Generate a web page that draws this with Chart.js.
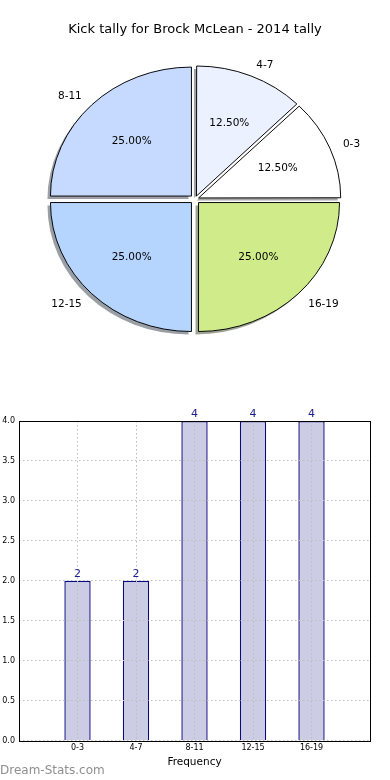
<!DOCTYPE html>
<html>
<head>
<meta charset="utf-8">
<script src="https://cdn.jsdelivr.net/npm/chart.js@4.4.0/dist/chart.umd.min.js"></script>
<style>
    body { margin: 0; background: #fff; width: 390px; height: 780px; overflow: hidden; position: relative; font-family: "DejaVu Sans", sans-serif; }
    #pie-wrap { position: absolute; left: 0; top: 0; width: 390px; height: 380px; }
    #bar-wrap { position: absolute; left: 0; top: 380px; width: 390px; height: 400px; }
    #brand { position: absolute; left: 0; top: 762px; font-size: 12px; line-height: 16px; color: #8f8f8f; }
</style>
</head>
<body>
<div id="pie-wrap"><canvas id="pie-chart"></canvas></div>
<div id="bar-wrap"><canvas id="bar-chart"></canvas></div>
<div id="brand">Dream-Stats.com</div>
<script>
const ageGroups = ['0-3', '4-7', '8-11', '12-15', '16-19'];
const kickCounts = [2, 2, 4, 4, 4];
const sliceColors = ['#ffffff', '#ebf1ff', '#c6d9ff', '#b5d5ff', '#d0eb8a'];
const chartTitle = 'Kick tally for Brock McLean - 2014 tally';

// chart.js goes clockwise, the original goes anticlockwise from 3 o'clock
const pieLabels = ageGroups.slice().reverse();
const pieValues = kickCounts.slice().reverse();
const pieColors = sliceColors.slice().reverse();
const total = kickCounts.reduce((a, b) => a + b, 0);

const SQUASH = 129 / 141;   // the original pie is not round
const EXPLODE = 5;

function shadeOf(hex) {
    const n = parseInt(hex.slice(1), 16);
    const r = (n >> 16) & 255, g = (n >> 8) & 255, b = n & 255;
    return `rgba(${Math.round(r * 0.3)},${Math.round(g * 0.3)},${Math.round(b * 0.3)},0.5)`;
}

function squash(ctx, x, y) {
    ctx.translate(x, y);
    ctx.scale(1, SQUASH);
    ctx.translate(-x, -y);
}

function sliceGeom(arc) {
    const p = arc.getProps(['x', 'y', 'startAngle', 'endAngle', 'outerRadius']);
    const mid = (p.startAngle + p.endAngle) / 2;
    return { ...p, mid, cx: p.x + Math.cos(mid) * EXPLODE, cy: p.y + Math.sin(mid) * EXPLODE };
}

const pieDecor = {
    id: 'pieDecor',
    beforeDatasetsDraw(chart) {
        const ctx = chart.ctx;
        const arcs = chart.getDatasetMeta(0).data;
        const c = arcs[0];
        ctx.save();
        ctx.save();
        ctx.translate(-3, 3);
        squash(ctx, c.x, c.y);
        arcs.forEach((arc, i) => {
            const g = sliceGeom(arc);
            ctx.beginPath();
            ctx.moveTo(g.cx, g.cy);
            ctx.arc(g.cx, g.cy, g.outerRadius, g.startAngle, g.endAngle);
            ctx.closePath();
            ctx.fillStyle = shadeOf(pieColors[i]);
            ctx.fill();
        });
        ctx.restore();
        squash(ctx, c.x, c.y);
    },
    afterDatasetsDraw(chart) {
        const ctx = chart.ctx;
        ctx.restore();
        const arcs = chart.getDatasetMeta(0).data;
        ctx.save();
        ctx.font = '10.5px "DejaVu Sans"';
        ctx.fillStyle = '#000';
        ctx.textBaseline = 'middle';
        arcs.forEach((arc, i) => {
            const g = sliceGeom(arc);
            const cos = Math.cos(g.mid), sin = Math.sin(g.mid);
            const at = rr => [g.x + cos * (rr + EXPLODE), g.y + SQUASH * sin * (rr + EXPLODE)];
            const pct = (pieValues[i] / total * 100).toFixed(2) + '%';
            let [px, py] = at(g.outerRadius * 0.6);
            ctx.textAlign = 'center';
            ctx.fillText(pct, px, py);
            [px, py] = at(g.outerRadius * 1.1);
            ctx.textAlign = cos < 0 ? 'right' : 'left';
            ctx.fillText(pieLabels[i], px, py + 1);
        });
        ctx.restore();
    }
};

new Chart(document.getElementById('pie-chart'), {
    type: 'pie',
    data: {
        labels: pieLabels,
        datasets: [{
            data: pieValues,
            backgroundColor: pieColors,
            borderColor: '#000',
            borderWidth: 1,
            offset: (c) => {
                const circ = c.parsed / total * Math.PI * 2;
                return 4 * EXPLODE / (2 - Math.sin(Math.min(Math.PI, circ)));
            }
        }]
    },
    options: {
        responsive: true,
        maintainAspectRatio: false,
        animation: false,
        events: [],
        rotation: 90,
        radius: 141,
        layout: { padding: { top: 0, bottom: 29, left: 0, right: 0 } },
        plugins: {
            legend: { display: false },
            tooltip: { enabled: false },
            title: {
                display: true,
                text: chartTitle,
                color: '#000',
                font: { family: 'DejaVu Sans', size: 13, weight: 'normal' },
                padding: { top: 22, bottom: 10 }
            }
        }
    },
    plugins: [pieDecor]
});

const barDecor = {
    id: 'barDecor',
    afterDraw(chart) {
        const ctx = chart.ctx;
        const a = chart.chartArea;
        ctx.save();
        ctx.strokeStyle = '#000';
        ctx.lineWidth = 1;
        ctx.strokeRect(Math.round(a.left) + 0.5, Math.round(a.top) + 0.5,
            Math.round(a.right - a.left), Math.round(a.bottom - a.top));
        ctx.font = '11px "DejaVu Sans"';
        ctx.fillStyle = '#1e1e8c';
        ctx.textAlign = 'center';
        ctx.textBaseline = 'alphabetic';
        chart.getDatasetMeta(0).data.forEach((bar, i) => {
            ctx.fillText(String(kickCounts[i]), bar.x, bar.y - 4);
        });
        ctx.restore();
    }
};

const dotted = { color: '#bdbdbd', z: 1, drawTicks: false, offset: false };

new Chart(document.getElementById('bar-chart'), {
    type: 'bar',
    data: {
        datasets: [{
            data: ageGroups.map((g, i) => ({ x: i, y: kickCounts[i] })),
            backgroundColor: '#cccce5',
            borderColor: '#0a0a80',
            borderWidth: 1.4,
            barPercentage: 0.45,
            categoryPercentage: 1
        }]
    },
    options: {
        responsive: true,
        maintainAspectRatio: false,
        animation: false,
        events: [],
        layout: { padding: { top: 41, right: 20, bottom: 7.8, left: 0 } },
        plugins: { legend: { display: false }, tooltip: { enabled: false } },
        scales: {
            x: {
                type: 'linear',
                min: -1,
                max: 5,
                offset: false,
                ticks: {
                    stepSize: 1,
                    autoSkip: false,
                    maxRotation: 0,
                    callback: v => ageGroups[v] ?? '',
                    font: { family: 'DejaVu Sans', size: 8, lineHeight: 1 },
                    color: '#000',
                    padding: 3.5
                },
                grid: dotted,
                border: { display: false, dash: [1.5, 2.5] },
                title: {
                    display: true,
                    text: 'Frequency',
                    color: '#000',
                    font: { family: 'DejaVu Sans', size: 10.5 },
                    padding: { top: 0, bottom: 4 }
                }
            },
            y: {
                min: 0,
                max: 4,
                ticks: {
                    stepSize: 0.5,
                    callback: v => v.toFixed(1),
                    font: { family: 'DejaVu Sans', size: 8 },
                    color: '#000',
                    padding: 4
                },
                grid: dotted,
                border: { display: false, dash: [1.5, 2.5] },
                afterFit(scale) { scale.width = 19; }
            }
        }
    },
    plugins: [barDecor]
});
</script>
</body>
</html>
